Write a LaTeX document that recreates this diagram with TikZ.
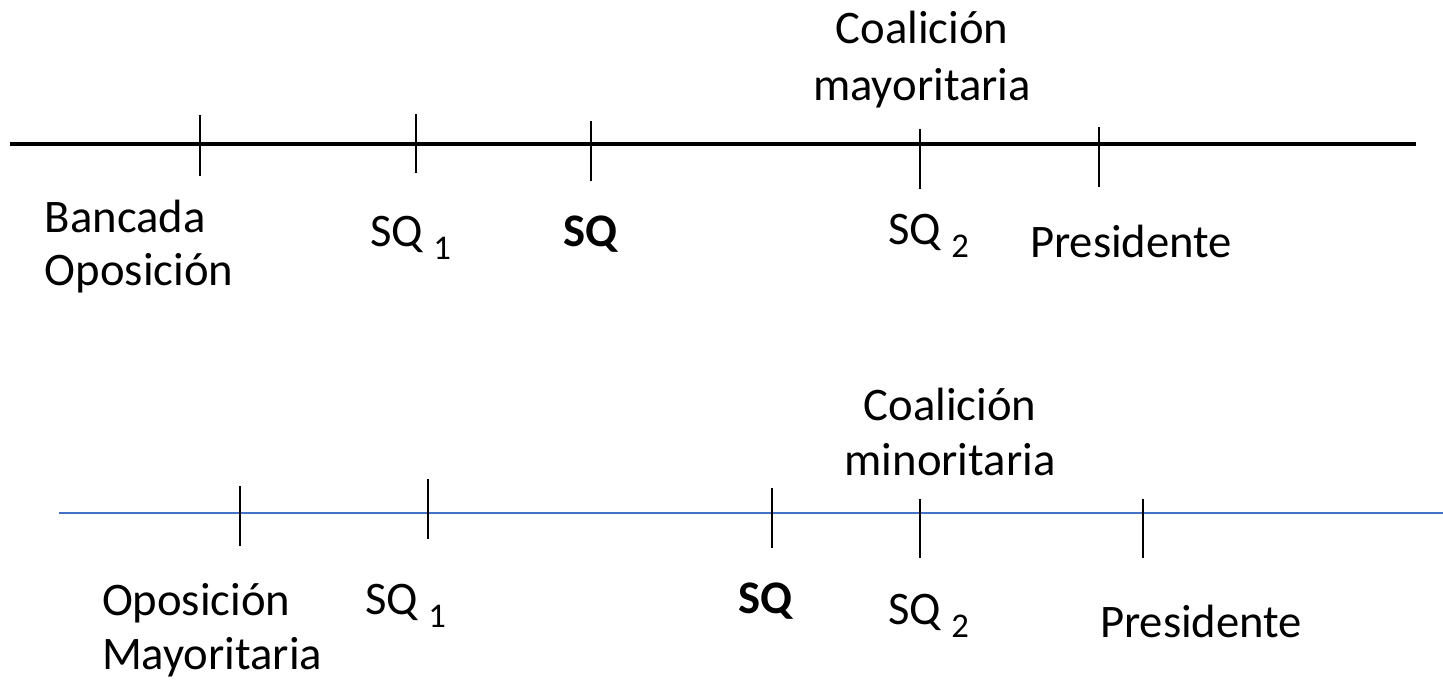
\documentclass[tikz,border=0pt]{standalone}
\usepackage{fontspec}
\setmainfont{Carlito}
\definecolor{axisblue}{HTML}{4472C4}
\newcommand{\mysubidx}[1]{\raisebox{-10pt}{\fontsize{26}{30}\selectfont #1}}
\begin{document}
\begin{tikzpicture}[x=0.75pt,y=-0.75pt,
  lbl/.style={inner sep=0pt,outer sep=0pt,font=\fontsize{35}{42}\selectfont},
  lblw/.style={lbl,anchor=base west},
  lblc/.style={lbl,anchor=base},
  tick/.style={draw=black,line width=1.5pt},
  axisk/.style={draw=black,line width=3pt},
  axisb/.style={draw=axisblue,line width=1.5pt}]
\useasboundingbox (0,0) rectangle (1443,679);
% ---- top axis ----
\coordinate (ta) at (10,144);
\coordinate (tb) at (1416,144);
\draw[axisk] (ta) -- (tb);
\coordinate (t1a) at (200,115); \coordinate (t1b) at (200,176);
\coordinate (t2a) at (416,114); \coordinate (t2b) at (416,173);
\coordinate (t3a) at (591,121); \coordinate (t3b) at (591,181);
\coordinate (t4a) at (920,129); \coordinate (t4b) at (920,189);
\coordinate (t5a) at (1099,127); \coordinate (t5b) at (1099,187);
\draw[tick] (t1a) -- (t1b);
\draw[tick] (t2a) -- (t2b);
\draw[tick] (t3a) -- (t3b);
\draw[tick] (t4a) -- (t4b);
\draw[tick] (t5a) -- (t5b);
\node[lblw] (bancada) at (45,232) {Bancada};
\node[lblw] (oposA) at (45,285) {Oposición};
\node[lblw] (sq1A) at (370,246) {SQ \mysubidx{1}};
\node[lblw] (sqA) at (563,246) {\bfseries SQ};
\node[lblw] (sq2A) at (888,244) {SQ \mysubidx{2}};
\node[lblw] (presA) at (1030,257) {Presidente};
\node[lblc] (coalA) at (922,43) {Coalición};
\node[lblc] (mayA) at (922,100) {mayoritaria};
% ---- bottom axis ----
\coordinate (ba) at (59,513);
\coordinate (bb) at (1443,513);
\draw[axisb] (ba) -- (bb);
\coordinate (b1a) at (240,486); \coordinate (b1b) at (240,546);
\coordinate (b2a) at (428,479); \coordinate (b2b) at (428,539);
\coordinate (b3a) at (772,488); \coordinate (b3b) at (772,548);
\coordinate (b4a) at (920,499); \coordinate (b4b) at (920,558);
\coordinate (b5a) at (1143,499); \coordinate (b5b) at (1143,558);
\draw[tick] (b1a) -- (b1b);
\draw[tick] (b2a) -- (b2b);
\draw[tick] (b3a) -- (b3b);
\draw[tick] (b4a) -- (b4b);
\draw[tick] (b5a) -- (b5b);
\node[lblc] (coalB) at (950,420) {Coalición};
\node[lblc] (minB) at (950,475) {minoritaria};
\node[lblw] (oposB) at (102,615) {Oposición};
\node[lblw] (mayorB) at (102,669) {Mayoritaria};
\node[lblw] (sq1B) at (365,614) {SQ \mysubidx{1}};
\node[lblw] (sqB) at (738,613) {\bfseries SQ};
\node[lblw] (sq2B) at (888,624) {SQ \mysubidx{2}};
\node[lblw] (presB) at (1100,637) {Presidente};
\end{tikzpicture}
\end{document}
